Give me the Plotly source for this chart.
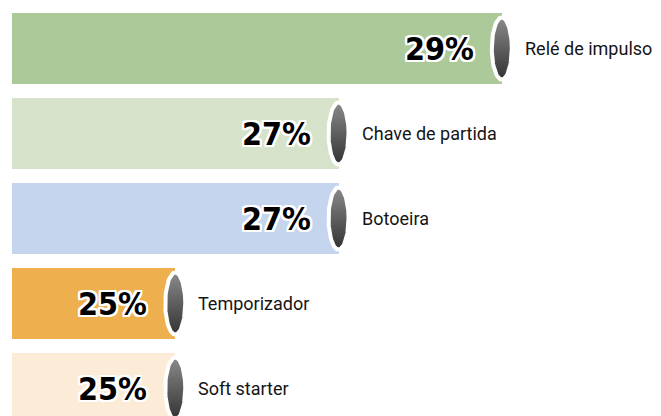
import numpy as np
import plotly.graph_objects as go

# data
categories = ["Relé de impulso", "Chave de partida", "Botoeira", "Temporizador", "Soft starter"]
values = [29, 27, 27, 25, 25]
bar_colors = ["#abc999", "#d6e2c9", "#c6d5ee", "#eeb04e", "#fbebd7"]

# page body has an 8px margin, so the figure is sized to fit the window
W, H = 653, 408
X_MIN, X_MAX = 23, 30.95
PLOT_W = W - 4
PX_X = PLOT_W / (X_MAX - X_MIN)
PX_Y = 85
TOP_C = 40.5  # centre of first bar, px from top of figure

pos = list(range(len(categories)))

fig = go.Figure()

fig.add_trace(go.Bar(
    y=pos, x=values, orientation='h',
    width=0.835,
    marker=dict(color=bar_colors, line=dict(width=0)),
    hoverinfo='skip', showlegend=False
))

# cylinder end caps: white rim + dark vertical gradient
t = np.linspace(0, 2 * np.pi, 80)
rx = 10 / PX_X
ry = 31 / PX_Y
for v, p in zip(values, pos):
    fig.add_trace(go.Scatter(
        x=v + rx * np.cos(t), y=p + ry * np.sin(t),
        mode='lines', fill='toself',
        line=dict(color='white', width=4),
        fillgradient=dict(type='vertical',
                          colorscale=[[0, '#333333'], [1, '#8a8a8a']]),
        hoverinfo='skip', showlegend=False
    ))

stroke = ", ".join(f"{dx}px {dy}px 0 #fff" for dx in (-2, -1, 0, 1, 2)
                   for dy in (-2, -1, 0, 1, 2) if (dx, dy) != (0, 0))

for v, p, c in zip(values, pos, categories):
    fig.add_annotation(
        x=v, y=p, text=f"{v}%", showarrow=False,
        xanchor='right', yanchor='middle', xshift=-26,
        font=dict(family="DejaVu Sans Condensed", size=32, color="black",
                  weight="bold", shadow=stroke)
    )
    fig.add_annotation(
        x=v, y=p, text=c, showarrow=False,
        xanchor='left', yanchor='middle', xshift=21,
        font=dict(family="Roboto", size=18, color="#151515")
    )

fig.update_layout(
    width=W, height=H,
    margin=dict(l=4, r=0, t=0, b=0),
    paper_bgcolor='white', plot_bgcolor='white',
    bargap=0,
    xaxis=dict(range=[X_MIN, X_MAX], visible=False, fixedrange=True),
    yaxis=dict(range=[(H - TOP_C) / PX_Y, -TOP_C / PX_Y], visible=False, fixedrange=True),
    showlegend=False
)

fig.write_html("out.html")
